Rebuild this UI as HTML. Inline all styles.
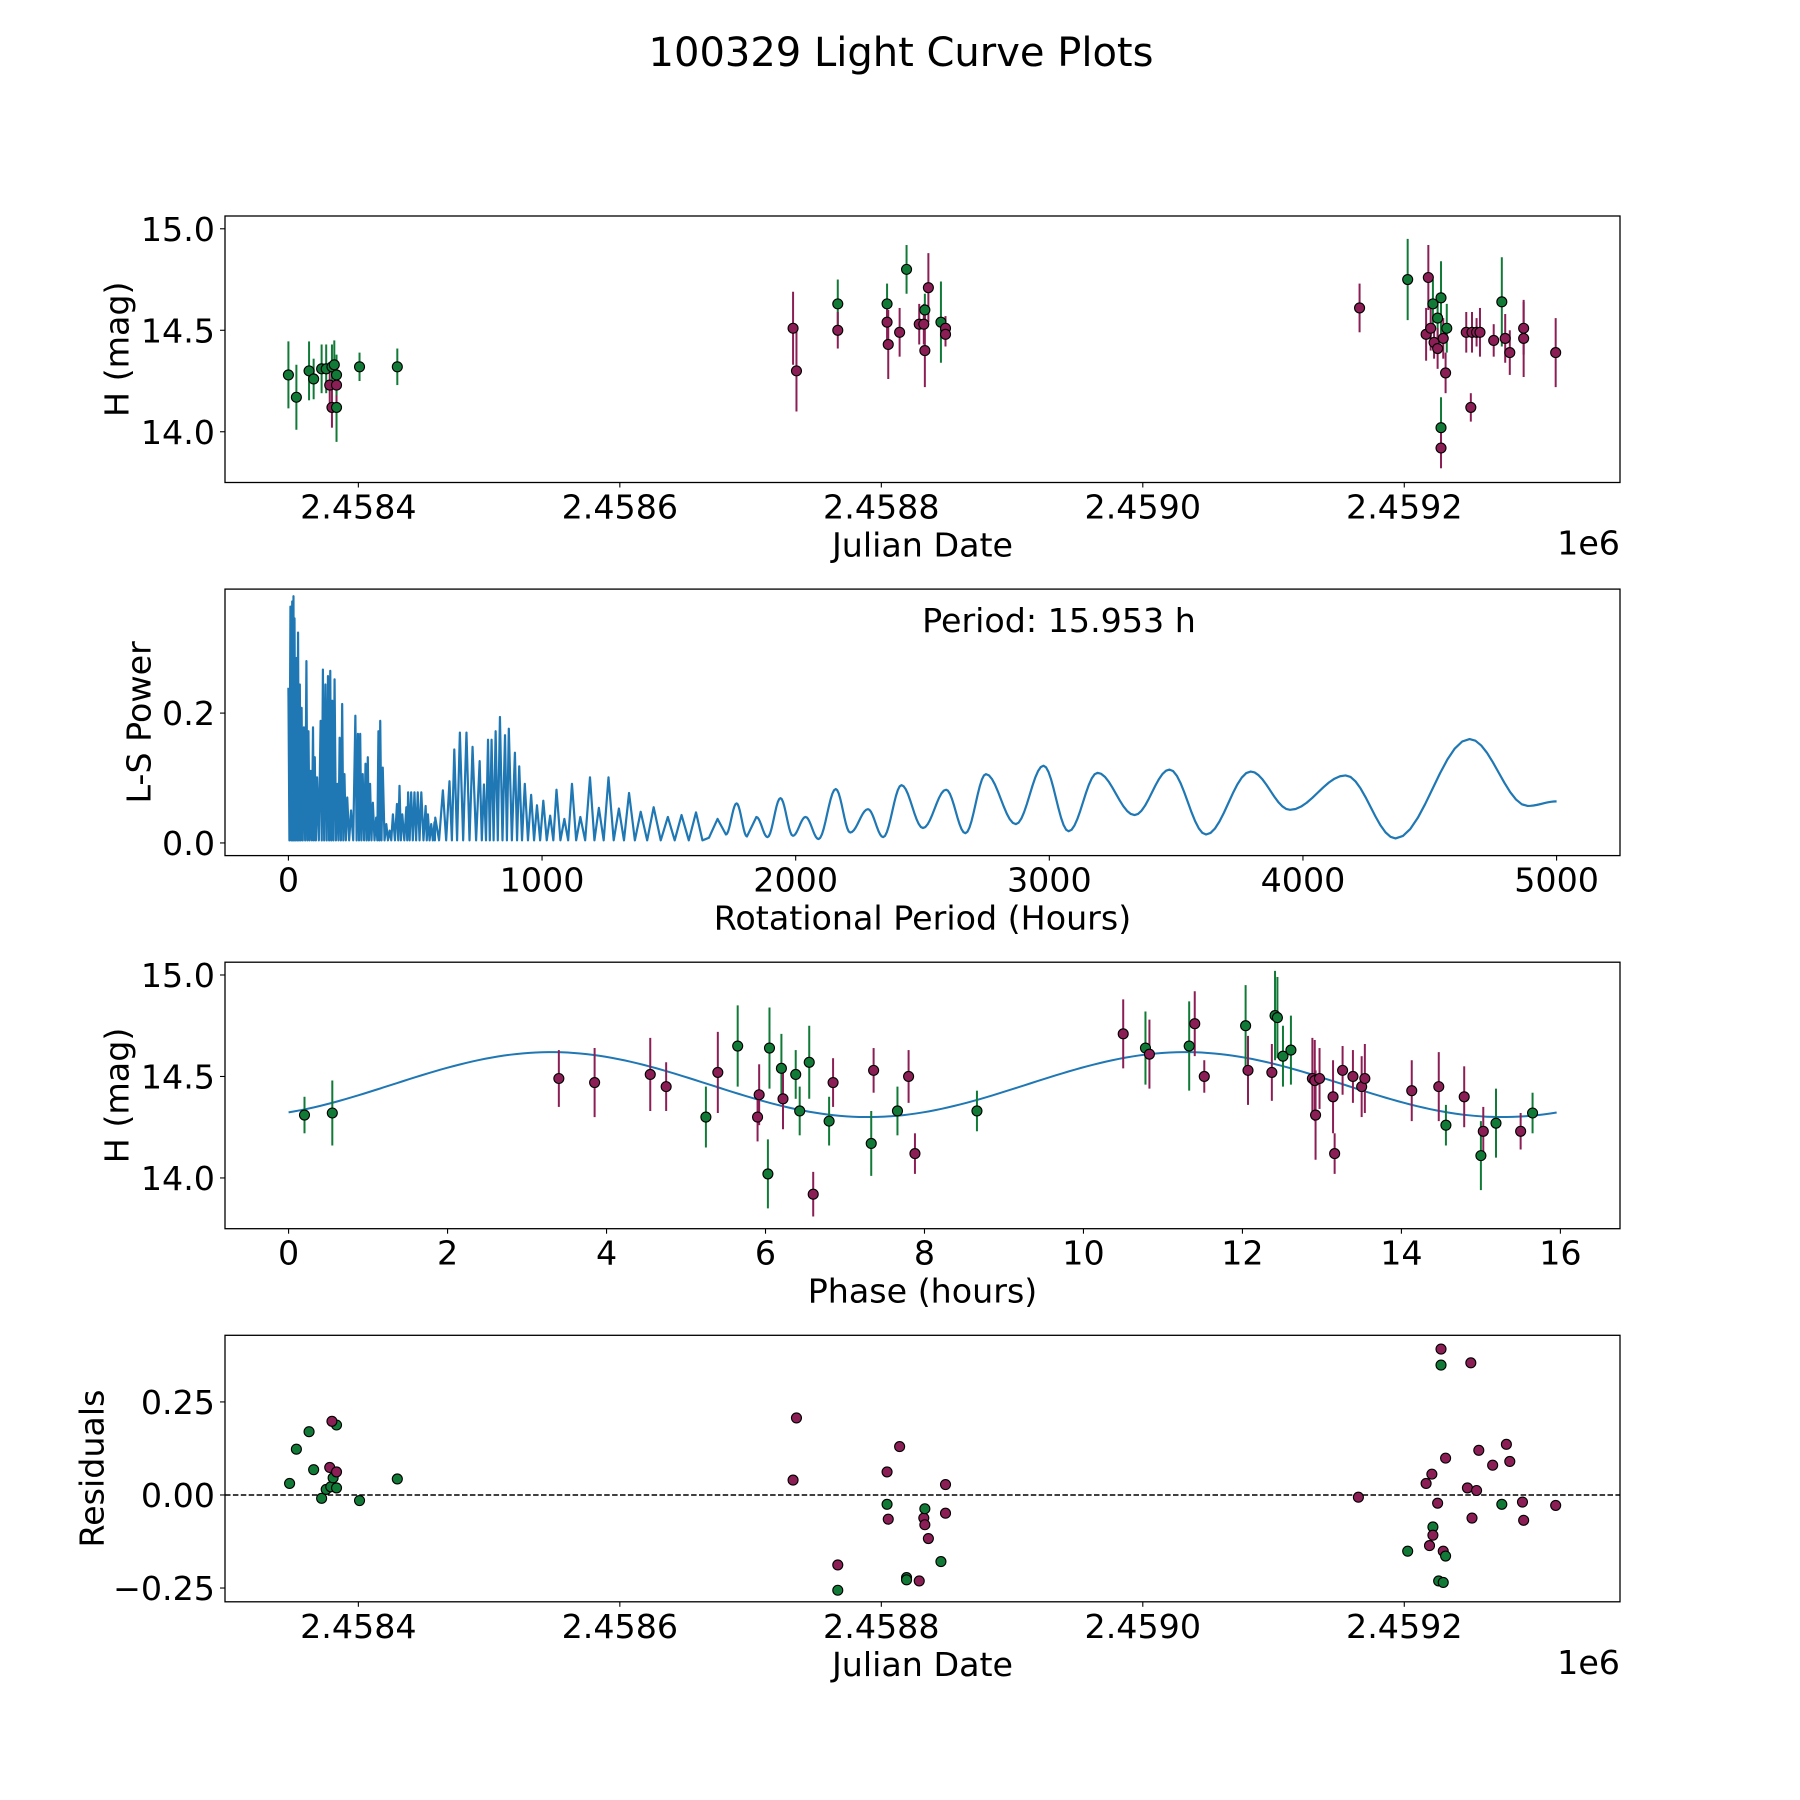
<!DOCTYPE html>
<html><head><meta charset="utf-8"><title>100329 Light Curve Plots</title>
<style>html,body{margin:0;padding:0;background:#fff}svg{display:block}text{font-family:"DejaVu Sans","Liberation Sans",sans-serif;fill:#000}</style>
</head><body>
<svg id="fig" width="1800" height="1800" viewBox="0 0 1800 1800" xmlns="http://www.w3.org/2000/svg">
<rect width="1800" height="1800" fill="#fff"/>
<text x="901" y="66" font-size="40" text-anchor="middle">100329 Light Curve Plots</text>
</svg>
<script>
// ---------- data ----------
const lcJD=[2458346.5,2458352.6,2458362.3,2458365.8,2458371.9,2458375.4,2458378.1,2458379.8,2458381.6,2458379.8,2458383.3,2458383.3,2458383.3,2458400.9,2458429.8,
2458732.5,2458735.1,2458766.7,2458766.7,2458804.4,2458804.4,2458805.3,2458814.0,2458819.3,2458829.0,2458832.5,2458833.3,2458833.3,2458836.0,2458845.6,2458849.1,2458849.1,
2459165.8,2459202.6,2459216.7,2459218.4,2459220.2,2459221.9,2459222.8,2459225.5,2459225.5,2459228.1,2459228.1,2459228.1,2459229.8,2459231.6,2459232.5,2459250.9,2459247.4,2459251.8,2459255.3,2459257.9,2459268.4,2459274.6,2459277.2,2459280.7,2459291.3,2459291.3,2459315.8];
const lcMag=[14.28,14.17,14.30,14.26,14.31,14.31,14.23,14.32,14.33,14.12,14.12,14.23,14.28,14.32,14.32,
14.51,14.30,14.63,14.50,14.63,14.54,14.43,14.49,14.80,14.53,14.53,14.60,14.40,14.71,14.54,14.51,14.48,
14.61,14.75,14.48,14.76,14.51,14.63,14.44,14.56,14.41,14.66,14.02,13.92,14.46,14.29,14.51,14.12,14.49,14.49,14.49,14.49,14.45,14.64,14.46,14.39,14.51,14.46,14.39];
const lcErr=[0.165,0.16,0.145,0.10,0.12,0.12,0.10,0.11,0.12,0.10,0.17,0.10,0.10,0.07,0.09,
0.18,0.20,0.12,0.09,0.10,0.10,0.17,0.12,0.12,0.10,0.10,0.08,0.18,0.17,0.20,0.06,0.06,
0.12,0.20,0.13,0.16,0.11,0.12,0.08,0.12,0.10,0.18,0.15,0.10,0.10,0.10,0.12,0.07,0.10,0.10,0.07,0.12,0.08,0.22,0.12,0.11,0.13,0.19,0.17];
const lcBand=['g','g','g','g','g','g','m','g','g','m','g','m','g','g','g',
'm','m','g','m','g','m','m','m','g','m','m','g','m','m','g','m','m',
'm','g','m','m','m','g','m','g','m','g','g','m','m','m','g','m','m','m','m','m','m','g','m','m','m','m','m'];

const pgDenseP=[0,8,15,20,24,32,38,45,52,61,71,79,88,97,104,113,127,136,146,156,165,173,182,193,202,212,221,232,247,264,274,283,293,304,313,322,333,346,355,362,372,386,399,412,428,438,449,465,472,484,497,510,524,541,550,563,576,
579,609,635,654,676,702,726,754,771,787,801,817,834,854,869,893,910,932,957,980,1005,1032,1057,1088,1118,1151,1189,1224,1262,1303,1343,1389,1440,1496,1550,1607];
const pgDenseV=[0.239,0.364,0.372,0.380,0.346,0.285,0.324,0.244,0.208,0.178,0.280,0.172,0.111,0.178,0.132,0.101,0.188,0.267,0.244,0.257,0.265,0.219,0.252,0.091,0.162,0.214,0.106,0.070,0.050,0.196,0.168,0.168,0.106,0.122,0.132,0.091,0.062,0.039,0.172,0.188,0.116,0.029,0.019,0.044,0.060,0.088,0.044,0.055,0.078,0.078,0.078,0.078,0.078,0.057,0.044,0.029,0.032,
0.039,0.081,0.095,0.144,0.170,0.170,0.148,0.126,0.090,0.159,0.159,0.172,0.194,0.166,0.176,0.139,0.118,0.091,0.074,0.058,0.065,0.042,0.082,0.037,0.091,0.040,0.101,0.054,0.101,0.053,0.077,0.048,0.055,0.040,0.043,0.047];
const pgTroughV=0.004;
const pgSmoothP=[1658,1692,1725,1767,1808,1845,1889,1940,1989,2039,2090,2158,2215,2285,2345,2417,2502,2593,2669,2750,2868,2977,3076,3190,3336,3474,3618,3794,3949,4168,4365,4657,4886,5000];
const pgSmoothV=[0.008,0.037,0.013,0.061,0.010,0.040,0.009,0.069,0.011,0.040,0.006,0.083,0.016,0.052,0.009,0.089,0.023,0.082,0.015,0.106,0.029,0.119,0.018,0.108,0.043,0.113,0.013,0.110,0.051,0.104,0.007,0.160,0.057,0.064];
const bestPeriodLabel='Period: 15.953 h';

const phP=[0.2,0.55,3.4,3.85,4.55,4.75,5.25,5.4,5.65,5.9,5.92,6.03,6.05,6.2,6.22,6.38,6.43,6.55,6.6,6.8,6.85,7.33,7.36,7.66,7.8,7.88,8.66,10.5,10.78,10.83,11.33,11.4,11.52,12.04,12.07,12.37,12.41,12.44,12.51,12.61,12.88,12.91,12.92,12.97,13.14,13.16,13.26,13.39,13.5,13.54,14.13,14.47,14.56,14.79,15.0,15.03,15.19,15.5,15.65];
const phMag=[14.31,14.32,14.49,14.47,14.51,14.45,14.30,14.52,14.65,14.30,14.41,14.02,14.64,14.54,14.39,14.51,14.33,14.57,13.92,14.28,14.47,14.17,14.53,14.33,14.50,14.12,14.33,14.71,14.64,14.61,14.65,14.76,14.50,14.75,14.53,14.52,14.80,14.79,14.60,14.63,14.49,14.48,14.31,14.49,14.40,14.12,14.53,14.50,14.45,14.49,14.43,14.45,14.26,14.40,14.11,14.23,14.27,14.23,14.32];
const phErr=[0.09,0.16,0.14,0.17,0.18,0.12,0.15,0.2,0.2,0.12,0.15,0.17,0.2,0.17,0.15,0.12,0.12,0.18,0.11,0.12,0.12,0.16,0.11,0.12,0.13,0.1,0.1,0.17,0.18,0.17,0.22,0.16,0.08,0.2,0.17,0.14,0.22,0.2,0.15,0.17,0.2,0.2,0.22,0.15,0.18,0.1,0.12,0.13,0.15,0.17,0.15,0.17,0.1,0.15,0.17,0.12,0.17,0.09,0.1];
const phBand=['g','g','m','m','m','m','g','m','g','m','m','g','g','g','m','g','g','g','m','g','m','g','m','g','m','m','g','m','g','m','g','m','m','g','m','m','g','g','g','g','m','m','m','m','m','m','m','m','m','m','m','m','g','m','g','m','g','m','g'];
const fitMean=14.46, fitAmp=0.16, fitPeakPhase=3.3, fitHalfPeriod=7.98, fitMaxPhase=15.953;

const resJD=[2458347.4,2458352.6,2458362.3,2458365.8,2458371.9,2458375.4,2458378.9,2458380.7,2458383.3,2458383.3,2458400.9,2458429.8,2458378.1,2458379.8,2458383.3,
2458732.5,2458735.1,2458766.7,2458766.7,2458804.4,2458804.4,2458805.3,2458814.0,2458819.3,2458819.3,2458829.0,2458832.5,2458833.3,2458833.3,2458836.0,2458845.6,2458849.1,2458849.1,
2459164.9,2459202.6,2459216.7,2459219.3,2459221.1,2459221.9,2459221.9,2459225.5,2459228.1,2459228.1,2459226.3,2459229.8,2459229.8,2459231.6,2459231.6,2459250.9,2459248.3,2459251.8,2459255.3,2459257.0,2459267.6,2459274.6,2459278.1,2459280.7,2459290.4,2459291.3,2459315.8];
const resVal=[0.031,0.123,0.17,0.068,-0.009,0.015,0.022,0.046,0.019,0.188,-0.015,0.043,0.074,0.198,0.062,
0.04,0.207,-0.188,-0.256,0.062,-0.025,-0.065,0.13,-0.222,-0.228,-0.231,-0.062,-0.08,-0.037,-0.117,-0.179,0.028,-0.049,
-0.006,-0.151,0.031,-0.136,0.056,-0.086,-0.108,-0.022,0.392,0.349,-0.231,-0.235,-0.151,-0.164,0.099,0.355,0.019,-0.062,0.012,0.12,0.08,-0.025,0.136,0.09,-0.019,-0.068,-0.028];
const resBand=['g','g','g','g','g','g','g','g','g','g','g','g','m','m','m',
'm','m','m','g','m','g','m','m','g','g','m','m','m','g','m','g','m','m',
'm','g','m','m','m','g','m','m','m','g','g','g','m','g','m','m','m','m','m','m','m','g','m','m','m','m','m'];

const jdTicks=[2458400,2458600,2458800,2459000,2459200];
const jdTickLabels=['2.4584','2.4586','2.4588','2.4590','2.4592'];
const magTicks=[14.0,14.5,15.0];
const magTickLabels=['14.0','14.5','15.0'];
const pgXTicks=[0,1000,2000,3000,4000,5000];
const pgYTicks=[0.0,0.2];
const pgYTickLabels=['0.0','0.2'];
const phTicks=[0,2,4,6,8,10,12,14,16];
const resTicks=[-0.25,0,0.25];
const resTickLabels=['\u22120.25','0.00','0.25'];

// ---------- layout ----------
const NS='http://www.w3.org/2000/svg';
const svg=document.getElementById('fig');
const L=225,R=1620,H=266.5;
const tops=[216,589.1,962.2,1335.3];
const COL={g:'#117a37',m:'#8b1f55'};
function mk(tag,attrs,parent){const e=document.createElementNS(NS,tag);for(const k in attrs)e.setAttribute(k,attrs[k]);(parent||svg).appendChild(e);return e;}
function lin(d0,d1,p0,p1){return v=>p0+(v-d0)*(p1-p0)/(d1-d0);}

function axesFrame(i,name,xs,ys,xt,xtl,yt,ytl,xlabel,ylabel,ylabelX,offset){
  const g=mk('g',{});
  
  
  const t=tops[i],b=t+H;
  const fr=mk('rect',{x:L,y:t,width:R-L,height:H,fill:'none',stroke:'#000','stroke-width':1.3},g);
  
  
  xt.forEach((v,k)=>{const x=xs(v);
    const tk=mk('line',{x1:x,x2:x,y1:b,y2:b+5,stroke:'#000','stroke-width':1.1},g);
    
    
    const tl=mk('text',{x:x,y:b+36,'font-size':33.3,'text-anchor':'middle'},g);tl.textContent=xtl[k];
    
    });
  yt.forEach((v,k)=>{const y=ys(v);
    const tk=mk('line',{x1:L-5,x2:L,y1:y,y2:y,stroke:'#000','stroke-width':1.1},g);
    
    
    const tl=mk('text',{x:L-10,y:y+12,'font-size':33.3,'text-anchor':'end'},g);tl.textContent=ytl[k];
    
    });
  const xl=mk('text',{x:(L+R)/2,y:b+74,'font-size':33.3,'text-anchor':'middle'},g);xl.textContent=xlabel;
  
  
  const yl=mk('text',{x:ylabelX,y:t+H/2,'font-size':33.3,'text-anchor':'middle','dominant-baseline':'central',transform:`rotate(-90 ${ylabelX} ${t+H/2})`},g);yl.textContent=ylabel;
  
  
  if(offset){const o=mk('text',{x:R,y:b+72,'font-size':33.3,'text-anchor':'end'},g);o.textContent=offset;
    
    }
  return g;
}
function clip(i,id){const c=mk('clipPath',{id:id});mk('rect',{x:L,y:tops[i],width:R-L,height:H},c);return 'url(#'+id+')';}
function point(g,x,y,c){const p=mk('circle',{cx:x,cy:y,r:5,fill:c,stroke:'#000','stroke-width':1.1},g);
  
  }
function ebar(g,x,y1,y2,c){const e=mk('line',{x1:x,x2:x,y1:y1,y2:y2,stroke:c,'stroke-width':2},g);
  
  }

// Panel 1: light curve
const jx=lin(2458298,2459365,L,R);
const my1=lin(15.063,13.75,tops[0],tops[0]+H);
axesFrame(0,'light-curve-axes',jx,my1,jdTicks,jdTickLabels,magTicks,magTickLabels,'Julian Date','H (mag)',117,'1e6');
const g1=mk('g',{'clip-path':clip(0,'c1')});


lcJD.forEach((d,k)=>ebar(g1,jx(d),my1(lcMag[k]-lcErr[k]),my1(lcMag[k]+lcErr[k]),COL[lcBand[k]]));
lcJD.forEach((d,k)=>point(g1,jx(d),my1(lcMag[k]),COL[lcBand[k]]));

// Panel 2: periodogram
const px=lin(-250,5250,L,R);
const py=lin(0.391,-0.0195,tops[1],tops[1]+H);
axesFrame(1,'periodogram-axes',px,py,pgXTicks,pgXTicks.map(String),pgYTicks,pgYTickLabels,'Rotational Period (Hours)','L-S Power',139,null);
const vP=[],vV=[];
pgDenseP.forEach((p,k)=>{vP.push(p);vV.push(pgDenseV[k]);
  const nextP=k+1<pgDenseP.length?pgDenseP[k+1]:pgSmoothP[0];
  vP.push((p+nextP)/2);vV.push(pgTroughV);});
pgSmoothP.forEach((p,k)=>{vP.push(p);vV.push(pgSmoothV[k]);});
let d='';
for(let k=0;k<vP.length;k++){
  if(k===0){d+=`M${px(vP[0]).toFixed(2)},${py(vV[0]).toFixed(2)}`;continue;}
  const n=vP[k]-vP[k-1]>40?10:2;
  for(let s=1;s<=n;s++){const t=s/n,w=(1-Math.cos(Math.PI*t))/2;
    d+=`L${px(vP[k-1]+(vP[k]-vP[k-1])*t).toFixed(2)},${py(vV[k-1]+(vV[k]-vV[k-1])*w).toFixed(2)}`;}
}
const pl=mk('path',{d:d,fill:'none',stroke:'#1f77b4','stroke-width':2.2,'stroke-linejoin':'round','clip-path':clip(1,'c2')});


const pt=mk('text',{x:1059,y:632,'font-size':33.3,'text-anchor':'middle'});pt.textContent=bestPeriodLabel;



// Panel 3: phased curve
const hx=lin(-0.8,16.75,L,R);
const my3=lin(15.063,13.75,tops[2],tops[2]+H);
axesFrame(2,'phase-axes',hx,my3,phTicks,phTicks.map(String),magTicks,magTickLabels,'Phase (hours)','H (mag)',117,null);
const g3=mk('g',{'clip-path':clip(2,'c3')});


let fd='';
for(let s=0;s<=200;s++){const p=fitMaxPhase*s/200;const m=fitMean+fitAmp*Math.cos(2*Math.PI*(p-fitPeakPhase)/fitHalfPeriod);
  fd+=(s?'L':'M')+hx(p).toFixed(2)+','+my3(m).toFixed(2);}
const fl=mk('path',{d:fd,fill:'none',stroke:'#1f77b4','stroke-width':2},g3);


phP.forEach((p,k)=>ebar(g3,hx(p),my3(phMag[k]-phErr[k]),my3(phMag[k]+phErr[k]),COL[phBand[k]]));
phP.forEach((p,k)=>point(g3,hx(p),my3(phMag[k]),COL[phBand[k]]));

// Panel 4: residuals
const ry=lin(0.429,-0.287,tops[3],tops[3]+H);
axesFrame(3,'residuals-axes',jx,ry,jdTicks,jdTickLabels,resTicks,resTickLabels,'Julian Date','Residuals',92,'1e6');
const zl=mk('line',{x1:L,x2:R,y1:ry(0),y2:ry(0),stroke:'#000','stroke-width':1.5,'stroke-dasharray':'5.5,2.4'});


const g4=mk('g',{'clip-path':clip(3,'c4')});


resJD.forEach((d,k)=>point(g4,jx(d),ry(resVal[k]),COL[resBand[k]]));
</script>
</body></html>
